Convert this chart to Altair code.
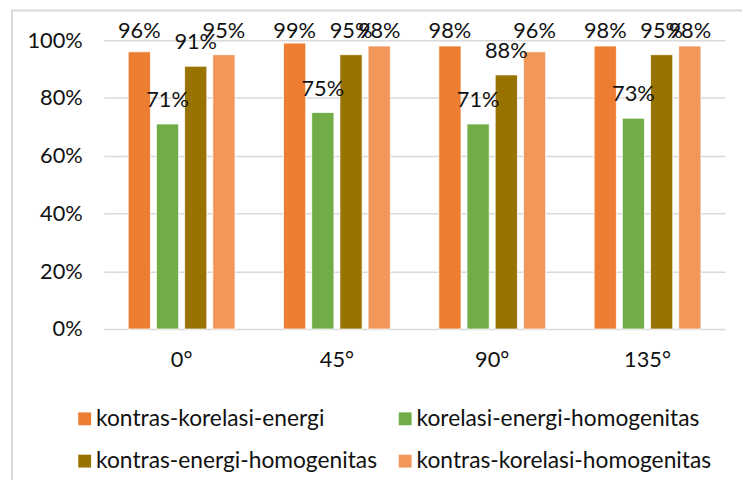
import altair as alt
import pandas as pd

categories = ["0°", "45°", "90°", "135°"]
series = ["kontras-korelasi-energi", "korelasi-energi-homogenitas",
          "kontras-energi-homogenitas", "kontras-korelasi-homogenitas"]
kontras_korelasi_energi = [0.96, 0.99, 0.98, 0.98]
korelasi_energi_homogenitas = [0.71, 0.75, 0.71, 0.73]
kontras_energi_homogenitas = [0.91, 0.95, 0.88, 0.95]
kontras_korelasi_homogenitas = [0.95, 0.98, 0.96, 0.98]
colors = ["#ED7D31", "#70AD47", "#997300", "#F1975A"]

values = [kontras_korelasi_energi, korelasi_energi_homogenitas,
          kontras_energi_homogenitas, kontras_korelasi_homogenitas]
rows = []
for s, vals in zip(series, values):
    for c, v in zip(categories, vals):
        rows.append({"sudut": c, "seri": s, "nilai": v})
df = pd.DataFrame(rows)

FONT = "Lato"

x = alt.X("sudut:N", sort=categories, title=None,
          scale=alt.Scale(paddingInner=0.312, paddingOuter=0.156),
          axis=alt.Axis(labelAngle=0, labelFontSize=22, labelPadding=21,
                        domain=False, ticks=False, labelColor="#111", labelFont=FONT))
xo = alt.XOffset("seri:N", sort=series,
                 scale=alt.Scale(paddingInner=0.21, paddingOuter=0))
yscale = alt.Scale(domain=[0, 1], nice=False)
yaxis = alt.Axis(format=".0%", values=[0, 0.2, 0.4, 0.6, 0.8, 1.0],
                 labelFontSize=22, labelPadding=22, domain=False, ticks=False,
                 gridColor="#D9D9D9", gridWidth=1.5, labelColor="#111",
                 labelFont=FONT)
y = alt.Y("nilai:Q", title=None, scale=yscale, axis=yaxis)
color = alt.Color("seri:N", sort=series,
                  scale=alt.Scale(domain=series, range=colors),
                  legend=alt.Legend(title=None, orient="none", legendX=-31, legendY=371,
                                    columns=2, direction="horizontal",
                                    symbolType="square", symbolSize=169,
                                    symbolStrokeWidth=0, labelFontSize=23,
                                    labelFont=FONT, labelColor="#111",
                                    labelOffset=0, columnPadding=16, rowPadding=19,
                                    labelLimit=400))

bars = alt.Chart(df).mark_bar(stroke="white", strokeWidth=0.8).encode(
    x=x, xOffset=xo, y=y, color=color)

# Excel keeps outside-end labels from rising past the top of the plot
labels = alt.Chart(df).transform_calculate(
    pos="min(datum.nilai, 0.949)"
).mark_text(fontSize=22, font=FONT, color="#111",
            baseline="alphabetic", dy=-17).encode(
    x=x, xOffset=xo,
    y=alt.Y("pos:Q", title=None, scale=yscale, axis=yaxis),
    text=alt.Text("nilai:Q", format=".0%"))

frame = alt.Chart(pd.DataFrame({"a": [0]})).mark_rect(
    filled=False, stroke="#D9D9D9", strokeWidth=2).encode(
    x=alt.value(-93), x2=alt.value(720), y=alt.value(-30), y2=alt.value(480))

chart = alt.layer(frame, bars, labels).properties(
    width=628, height=292,
    autosize=alt.AutoSizeParams(type="none"),
    padding={"left": 97, "top": 30, "right": 17, "bottom": 150},
).configure_view(stroke=None)

chart.save("out.html", embed_options={"renderer": "svg", "actions": False})
